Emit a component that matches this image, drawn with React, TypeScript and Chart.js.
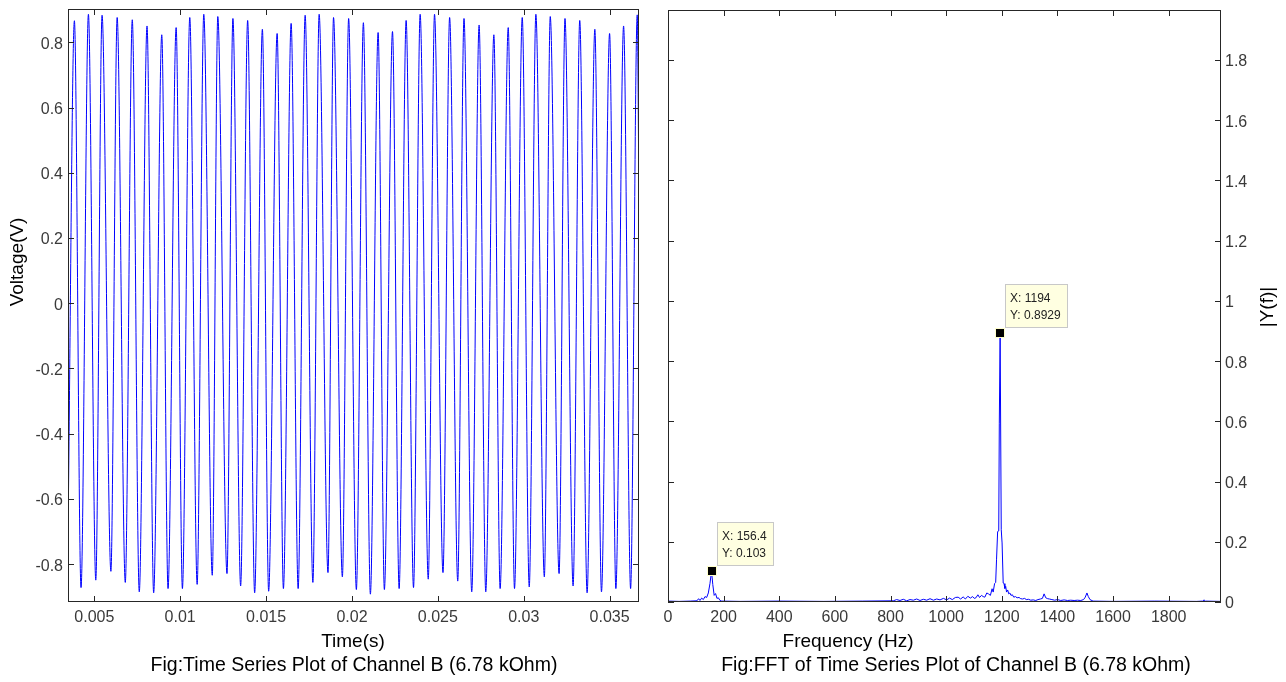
import React, { useEffect, useRef } from "react";
import { Chart, registerables } from "chart.js";

Chart.register(...registerables);

// ---- Channel B time series (seconds, volts) ----
const peakTimes = [
  0.003841, 0.004657, 0.005451, 0.00633, 0.00721, 0.008069, 0.008927, 0.009764, 0.010558, 0.011373,
  0.012189, 0.013069, 0.013927, 0.014785, 0.015644, 0.016459, 0.017275, 0.01809, 0.018927, 0.019807,
  0.020665, 0.021523, 0.02236, 0.023154, 0.02397, 0.024807, 0.025686, 0.026523, 0.027403, 0.028262,
  0.029098, 0.029914, 0.030708, 0.031545, 0.032403, 0.033262, 0.034141, 0.035, 0.035815, 0.036609,
];
const peakVolts = [
  0.866, 0.886, 0.883, 0.876, 0.869, 0.85, 0.823, 0.845, 0.876, 0.886,
  0.879, 0.873, 0.867, 0.84, 0.827, 0.858, 0.883, 0.886, 0.876, 0.873,
  0.86, 0.83, 0.833, 0.867, 0.886, 0.886, 0.876, 0.873, 0.853, 0.823,
  0.845, 0.876, 0.886, 0.879, 0.873, 0.867, 0.84, 0.827, 0.85, 0.884,
];
const troughTimes = [
  0.004227, 0.005086, 0.005966, 0.006803, 0.007618, 0.008455, 0.009292, 0.010129, 0.010987, 0.011867,
  0.012725, 0.013519, 0.014335, 0.01515, 0.016009, 0.016867, 0.017725, 0.018605, 0.019442, 0.020257,
  0.021073, 0.021888, 0.022747, 0.023584, 0.024442, 0.0253, 0.026159, 0.026974, 0.02779, 0.028627,
  0.029464, 0.030322, 0.031201, 0.03206, 0.032875, 0.033691, 0.034527, 0.035365, 0.036223,
];
const troughVolts = [
  -0.872, -0.849, -0.822, -0.856, -0.885, -0.888, -0.875, -0.875, -0.862, -0.834,
  -0.829, -0.867, -0.888, -0.883, -0.875, -0.875, -0.856, -0.826, -0.839, -0.878,
  -0.892, -0.878, -0.875, -0.872, -0.846, -0.826, -0.852, -0.885, -0.885, -0.875,
  -0.875, -0.87, -0.839, -0.829, -0.867, -0.888, -0.885, -0.875, -0.875,
];
// first and last recorded samples
const edgeTimes = [0.00347, 0.03671];
const edgeVolts = [-0.7, 0.31];

// ---- single-sided amplitude spectrum (Hz, |Y(f)|) ----
const fftFreqs = [
  0, 40, 80, 104, 110, 115, 121, 127, 133, 139, 145, 151, 156.4, 161, 166, 171, 176, 181, 187, 193,
  260, 400, 560, 700, 810, 822, 834, 846, 858, 870, 882, 894, 906, 918, 930, 942, 954, 966, 978, 990,
  1002, 1012, 1022, 1033, 1043, 1052, 1061, 1069, 1078, 1087, 1095, 1101, 1107, 1114, 1120, 1127, 1133,
  1139, 1146, 1152, 1159, 1165, 1169, 1174, 1178, 1181, 1185, 1189, 1191, 1194, 1198, 1201, 1205, 1208,
  1211, 1214, 1217, 1221, 1225, 1229, 1233, 1238, 1243, 1249, 1255, 1262, 1268, 1275, 1282, 1288, 1296,
  1304, 1313, 1322, 1330, 1339, 1346, 1352, 1358, 1365, 1371, 1380, 1390, 1400, 1412, 1424, 1436, 1448,
  1460, 1472, 1484, 1494, 1500, 1506, 1511, 1517, 1528, 1600, 1750, 1900, 1922, 1927, 1932, 1988,
];
const fftMags = [
  0.003, 0.002, 0.003, 0.004, 0.011, 0.005, 0.013, 0.008, 0.018, 0.015, 0.03, 0.062, 0.103, 0.058, 0.022, 0.028, 0.012, 0.014, 0.005, 0.003,
  0.002, 0.003, 0.002, 0.003, 0.004, 0.008, 0.005, 0.009, 0.004, 0.008, 0.006, 0.01, 0.005, 0.009, 0.006, 0.011, 0.006, 0.01, 0.007, 0.012,
  0.007, 0.013, 0.008, 0.015, 0.016, 0.01, 0.017, 0.01, 0.019, 0.013, 0.018, 0.012, 0.014, 0.024, 0.015, 0.022, 0.018,
  0.016, 0.03, 0.027, 0.022, 0.044, 0.033, 0.061, 0.065, 0.14, 0.234, 0.236, 0.594, 0.8929, 0.24, 0.196, 0.063, 0.061,
  0.045, 0.052, 0.033, 0.04, 0.027, 0.03, 0.022, 0.024, 0.016, 0.018, 0.014, 0.015, 0.011, 0.01, 0.012, 0.008, 0.009,
  0.006, 0.007, 0.005, 0.008, 0.01, 0.012, 0.027, 0.014, 0.011, 0.01, 0.008, 0.006, 0.008, 0.005, 0.007, 0.005, 0.006,
  0.005, 0.006, 0.005, 0.008, 0.016, 0.03, 0.018, 0.008, 0.003, 0.002, 0.003, 0.002, 0.003, 0.007, 0.003, 0.002,
];

// data-cursor readouts on the spectrum
const tipFreqs = [156.4, 1194];
const tipMags = [0.103, 0.8929];

// axis ticks
const timeTicks = [0.005, 0.01, 0.015, 0.02, 0.025, 0.03, 0.035];
const voltTicks = [-0.8, -0.6, -0.4, -0.2, 0, 0.2, 0.4, 0.6, 0.8];
const freqTicks = [0, 200, 400, 600, 800, 1000, 1200, 1400, 1600, 1800];
const magTicks = [0, 0.2, 0.4, 0.6, 0.8, 1, 1.2, 1.4, 1.6, 1.8];

// axis limits
const timeRange = [0.003468, 0.036712];
const voltRange = [-0.916, 0.902];
const freqRange = [0, 1988];
const magRange = [0, 1.966];

const FONT = "'Liberation Sans', Arial, Helvetica, sans-serif";
const TICK_COLOR = "#3a3a3a";
const FRAME_COLOR = "#262626";
const LINE_BLUE = "#0000ff";

const fmt = (v: number) => {
  const n = Number(Number(v).toFixed(4));
  return String(n === 0 ? 0 : n);
};

type TextItem = { text: string; x: number; y: number; rotate?: boolean; size: number; baseline?: CanvasTextBaseline };

// box with inward tick marks on all four sides, plus free text
function makeFramePlugin(texts: TextItem[]) {
  return {
    id: "frame",
    afterDatasetsDraw(chart: any) {
      const { ctx, chartArea: a, scales } = chart;
      const TL = 6;
      ctx.save();
      ctx.strokeStyle = FRAME_COLOR;
      ctx.lineWidth = 1;
      ctx.beginPath();
      const xs = scales.x;
      const ys = scales.y;
      xs.ticks.forEach((t: any) => {
        const p = Math.round(xs.getPixelForValue(t.value)) + 0.5;
        ctx.moveTo(p, a.bottom);
        ctx.lineTo(p, a.bottom - TL);
        ctx.moveTo(p, a.top);
        ctx.lineTo(p, a.top + TL);
      });
      ys.ticks.forEach((t: any) => {
        const p = Math.round(ys.getPixelForValue(t.value)) + 0.5;
        ctx.moveTo(a.left, p);
        ctx.lineTo(a.left + TL, p);
        ctx.moveTo(a.right, p);
        ctx.lineTo(a.right - TL, p);
      });
      ctx.stroke();
      ctx.strokeRect(a.left + 0.5, a.top + 0.5, a.right - a.left - 1, a.bottom - a.top - 1);
      ctx.restore();
    },
    afterDraw(chart: any) {
      const { ctx } = chart;
      ctx.save();
      ctx.fillStyle = "#000";
      texts.forEach((t) => {
        ctx.save();
        ctx.font = `${t.size}px ${FONT}`;
        ctx.textAlign = "center";
        ctx.textBaseline = t.baseline || "alphabetic";
        ctx.translate(t.x, t.y);
        if (t.rotate) ctx.rotate(-Math.PI / 2);
        ctx.fillText(t.text, 0, 0);
        ctx.restore();
      });
      ctx.restore();
    },
  };
}

// yellow data-cursor boxes with a black square marker
const dataTipPlugin = {
  id: "dataTips",
  afterDraw(chart: any) {
    const { ctx, scales } = chart;
    ctx.save();
    tipFreqs.forEach((f, i) => {
      const m = tipMags[i];
      const px = Math.round(scales.x.getPixelForValue(f));
      const py = Math.round(scales.y.getPixelForValue(m));
      const l1 = `X: ${f}`;
      const l2 = `Y: ${m}`;
      ctx.font = `12px ${FONT}`;
      const w = Math.ceil(Math.max(ctx.measureText(l1).width, ctx.measureText(l2).width)) + 12;
      const h = 44;
      const bx = px + 5;
      const by = py - 5 - h;
      ctx.fillStyle = "#ffffe1";
      ctx.fillRect(bx, by, w, h);
      ctx.strokeStyle = "#c8c8c8";
      ctx.lineWidth = 1;
      ctx.strokeRect(bx + 0.5, by + 0.5, w - 1, h - 1);
      ctx.fillStyle = "#222";
      ctx.textAlign = "left";
      ctx.textBaseline = "alphabetic";
      ctx.fillText(l1, bx + 5, by + 18);
      ctx.fillText(l2, bx + 5, by + 35);
      // marker
      ctx.fillStyle = "#ffffcc";
      ctx.fillRect(px - 5, py - 5, 10, 10);
      ctx.fillStyle = "#000";
      ctx.fillRect(px - 4, py - 4, 8, 8);
    });
    ctx.restore();
  },
};

function axisOptions(
  range: number[],
  ticks: number[],
  fit: (s: any) => void,
  padding: number,
  position?: string,
  labelOffset = 0
) {
  return {
    type: "linear" as const,
    position,
    min: range[0],
    max: range[1],
    grid: { display: false, drawTicks: false, tickLength: 0 },
    border: { display: false },
    afterFit: (s: any) => {
      fit(s);
      s.paddingTop = 0;
      s.paddingBottom = 0;
      s.paddingLeft = 0;
      s.paddingRight = 0;
    },
    afterBuildTicks: (s: any) => {
      s.ticks = ticks.map((v) => ({ value: v }));
    },
    ticks: {
      padding,
      labelOffset,
      autoSkip: false,
      maxRotation: 0,
      minRotation: 0,
      color: TICK_COLOR,
      font: { family: FONT, size: 16 },
      callback: (v: any) => fmt(v),
    },
  };
}

function TimeChart() {
  const ref = useRef<HTMLCanvasElement | null>(null);
  useEffect(() => {
    if (!ref.current) return;
    const wave = [
      ...edgeTimes.map((t, i) => ({ x: t, y: edgeVolts[i] })),
      ...peakTimes.map((t, i) => ({ x: t, y: peakVolts[i] })),
      ...troughTimes.map((t, i) => ({ x: t, y: troughVolts[i] })),
    ].sort((a, b) => a.x - b.x);
    const chart = new Chart(ref.current, {
      type: "line",
      data: {
        datasets: [
          {
            data: wave,
            borderColor: LINE_BLUE,
            borderWidth: 1,
            pointRadius: 0,
            fill: false,
            cubicInterpolationMode: "monotone",
          },
        ],
      },
      options: {
        animation: false,
        responsive: false,
        maintainAspectRatio: false,
        layout: { padding: { left: 0, right: 11, top: 9, bottom: 0 } },
        plugins: { legend: { display: false }, tooltip: { enabled: false }, title: { display: false } },
        scales: {
          x: axisOptions(timeRange, timeTicks, (s) => { s.height = 80; }, 6),
          y: axisOptions(voltRange, voltTicks, (s) => { s.width = 68; }, 5, "left", 2),
        },
      },
      plugins: [
        makeFramePlugin([
          { text: "Voltage(V)", x: 18, y: 262, rotate: true, size: 19, baseline: "middle" },
          { text: "Time(s)", x: 353, y: 647, size: 19 },
          { text: "Fig:Time Series Plot of Channel B (6.78 kOhm)", x: 354, y: 671, size: 19.5 },
        ]),
      ],
    } as any);
    return () => chart.destroy();
  }, []);
  return (
    <canvas
      ref={ref}
      width={650}
      height={682}
      style={{ position: "absolute", left: 0, top: 0, width: 650, height: 682 }}
    />
  );
}

function SpectrumChart() {
  const ref = useRef<HTMLCanvasElement | null>(null);
  useEffect(() => {
    if (!ref.current) return;
    const spectrum = fftFreqs.map((f, i) => ({ x: f, y: fftMags[i] }));
    const chart = new Chart(ref.current, {
      type: "line",
      data: {
        datasets: [
          {
            data: spectrum,
            borderColor: LINE_BLUE,
            borderWidth: 1,
            pointRadius: 0,
            fill: false,
            tension: 0,
          },
        ],
      },
      options: {
        animation: false,
        responsive: false,
        maintainAspectRatio: false,
        layout: { padding: { left: 18, right: 0, top: 10, bottom: 0 } },
        plugins: { legend: { display: false }, tooltip: { enabled: false }, title: { display: false } },
        scales: {
          x: axisOptions(freqRange, freqTicks, (s) => { s.height = 80; }, 6),
          y: axisOptions(magRange, magTicks, (s) => { s.width = 65; }, 4, "right", 2),
        },
      },
      plugins: [
        makeFramePlugin([
          { text: "|Y(f)|", x: 618, y: 307, rotate: true, size: 19, baseline: "middle" },
          { text: "Frequency (Hz)", x: 198, y: 647, size: 19 },
          { text: "Fig:FFT of Time Series Plot of Channel B (6.78 kOhm)", x: 306, y: 671, size: 19.5 },
        ]),
        dataTipPlugin,
      ],
    } as any);
    return () => chart.destroy();
  }, []);
  return (
    <canvas
      ref={ref}
      width={636}
      height={682}
      style={{ position: "absolute", left: 650, top: 0, width: 636, height: 682 }}
    />
  );
}

export default function App() {
  return (
    <div
      style={{
        position: "absolute",
        left: 0,
        top: 0,
        width: 1286,
        height: 682,
        background: "#ffffff",
        overflow: "hidden",
      }}
    >
      <TimeChart />
      <SpectrumChart />
    </div>
  );
}
